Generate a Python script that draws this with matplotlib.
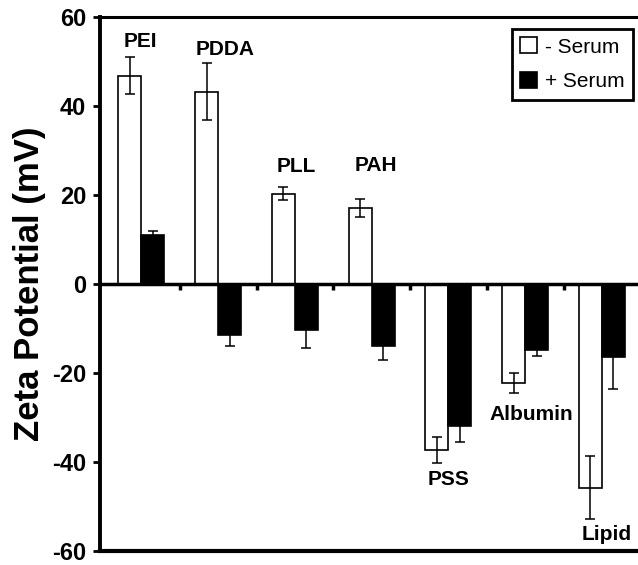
import numpy as np
import matplotlib
matplotlib.use('Agg')
import matplotlib.pyplot as plt

plt.rcParams['font.family'] = ['Liberation Sans', 'DejaVu Sans']

# data
names = ['PEI', 'PDDA', 'PLL', 'PAH', 'PSS', 'Albumin', 'Lipid']
minus_serum = [46.8, 43.2, 20.3, 17.0, -37.3, -22.2, -45.8]
minus_err = [4.1, 6.4, 1.5, 2.0, 2.9, 2.2, 7.1]
plus_serum = [11.0, -11.5, -10.3, -14.0, -32.0, -14.8, -16.3]
plus_err = [1.0, 2.4, 4.0, 3.0, 3.6, 1.4, 7.3]

# where the name labels sit (data coords)
label_x = [0.48, 1.59, 2.52, 3.55, 4.50, 5.58, 6.56]
label_y = [54.6, 52.6, 26.3, 26.7, -44.0, -29.4, -56.4]

x = np.arange(len(names)) + 0.5
w = 0.30

fig = plt.figure(figsize=(6.38, 5.65), dpi=100)
ax = fig.add_axes([100/638, 14/565, 538/638, 534/565])

ax.bar(x - w/2, minus_serum, w, color='white', edgecolor='black', linewidth=1.2,
       label='- Serum', zorder=2)
ax.bar(x + w/2, plus_serum, w, color='black', edgecolor='black', linewidth=1.2,
       label='+ Serum', zorder=2)
ax.errorbar(x - w/2, minus_serum, yerr=minus_err, fmt='none', ecolor='black',
            elinewidth=1.1, capsize=3.6, capthick=1.1, zorder=3)
ax.errorbar(x + w/2, plus_serum, yerr=plus_err, fmt='none', ecolor='black',
            elinewidth=1.1, capsize=3.6, capthick=1.1, zorder=1)

for nm, lx, ly in zip(names, label_x, label_y):
    ax.text(lx, ly, nm, ha='center', va='center', fontsize=15, fontweight='bold')

ax.set_xlim(-0.04, 6.97)
ax.set_ylim(-60, 60)
ax.set_yticks(np.arange(-60, 61, 20))
ax.set_yticklabels([str(v) for v in range(-60, 61, 20)], fontsize=17, fontweight='bold')
ax.set_xticks(np.arange(1, 7))
ax.set_xticklabels([])
ax.tick_params(axis='y', direction='out', length=5, width=2, pad=5)
ax.tick_params(axis='x', direction='out', length=4, width=2.5)

ax.spines['bottom'].set_position(('data', 0))
ax.spines['bottom'].set_linewidth(2.5)
ax.spines['left'].set_linewidth(2.8)
ax.spines['top'].set_linewidth(2.2)
ax.spines['right'].set_visible(False)
ax.axhline(-60, color='black', lw=3, clip_on=False, zorder=5)

ax.set_ylabel('Zeta Potential (mV)', fontsize=25, fontweight='bold', labelpad=4)

leg = ax.legend(loc='upper right', bbox_to_anchor=(0.991, 0.9775), borderaxespad=0,
                fontsize=15, handlelength=0.8, handleheight=0.8, handletextpad=0.4,
                fancybox=False, framealpha=1, edgecolor='black', borderpad=0.4,
                labelspacing=0.75)
leg.get_frame().set_linewidth(2)

fig.savefig('out.png', dpi=100)
